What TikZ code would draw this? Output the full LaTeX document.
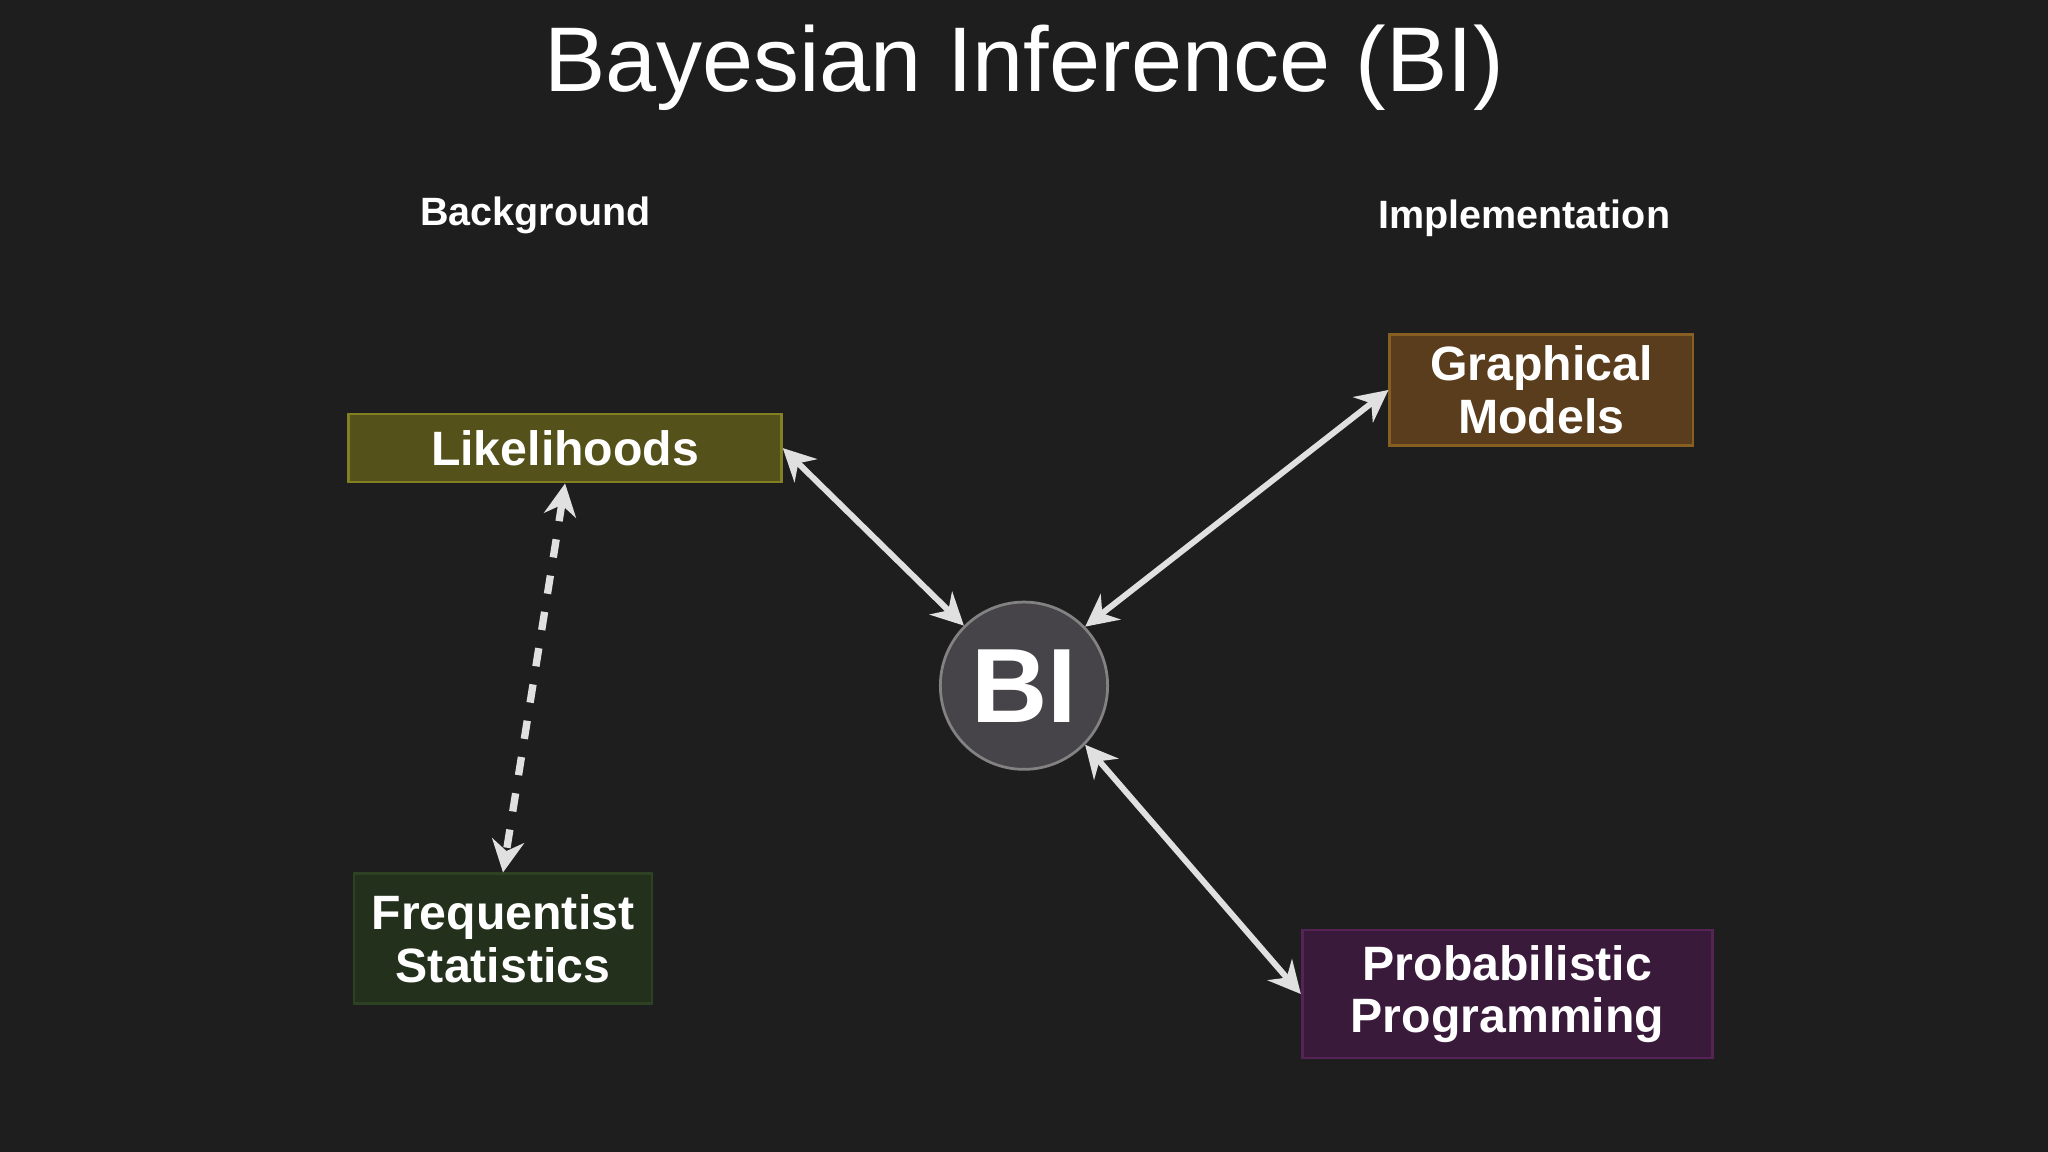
\documentclass[tikz,border=0pt]{standalone}
\usepackage{fontspec}
\setmainfont{Liberation Sans}
\usetikzlibrary{arrows.meta}
\definecolor{bg}{HTML}{1E1E1F}
\definecolor{arr}{HTML}{E0E0E0}
\tikzset{
  box/.style={draw, line width=0.6pt, font=\bfseries\fontsize{10.5pt}{11.5pt}\selectfont, text=white, align=center, inner sep=0pt, anchor=north west},
  conn/.style={arr, line width=1.3pt, {Stealth[length=7pt,width=7pt]}-{Stealth[length=7pt,width=7pt]}},
  hdr/.style={text=white, font=\bfseries\fontsize{8.6pt}{10pt}\selectfont}
}
\begin{document}
\begin{tikzpicture}[x=0.01cm,y=-0.01cm]
\fill[bg] (0,0) rectangle (1568,882);
\useasboundingbox (0,0) rectangle (1568,882);
\node[text=white, font=\fontsize{20pt}{24pt}\selectfont] (title) at (784,52) {Bayesian Inference (BI)};
\node[hdr] (bgh) at (410,165) {Background};
\node[hdr] (imp) at (1167,167) {Implementation};
\node[box, fill={rgb,255:red,84;green,82;blue,26}, draw={rgb,255:red,130;green,128;blue,35}, minimum width=3.31cm, minimum height=0.52cm] (lik) at (266,316) {Likelihoods};
\node[box, fill={rgb,255:red,90;green,61;blue,28}, draw={rgb,255:red,135;green,95;blue,35}, minimum width=2.32cm, minimum height=0.85cm] (gm) at (1063,255) {Graphical\\Models};
\node[box, fill={rgb,255:red,35;green,48;blue,28}, draw={rgb,255:red,45;green,65;blue,35}, minimum width=2.28cm, minimum height=0.99cm] (fs) at (270,668) {Frequentist\\Statistics};
\node[box, fill={rgb,255:red,58;green,26;blue,58}, draw={rgb,255:red,85;green,35;blue,85}, minimum width=3.14cm, minimum height=0.98cm] (pp) at (996,711) {Probabilistic\\Programming};
\node[circle, fill={rgb,255:red,70;green,68;blue,72}, draw={rgb,255:red,130;green,130;blue,130}, line width=0.6pt, minimum size=1.28cm, inner sep=0pt, text=white, font=\bfseries\fontsize{23pt}{24pt}\selectfont] (bi) at (784,525) {BI};
\draw[conn] (lik.east) -- (bi.135);
\draw[conn] (gm.west) -- (bi.44);
\draw[conn] (bi.-44) -- (pp.west);
\draw[conn, line width=1.6pt, dash pattern=on 4pt off 4pt] (lik.south) -- (fs.north);
\end{tikzpicture}
\end{document}
